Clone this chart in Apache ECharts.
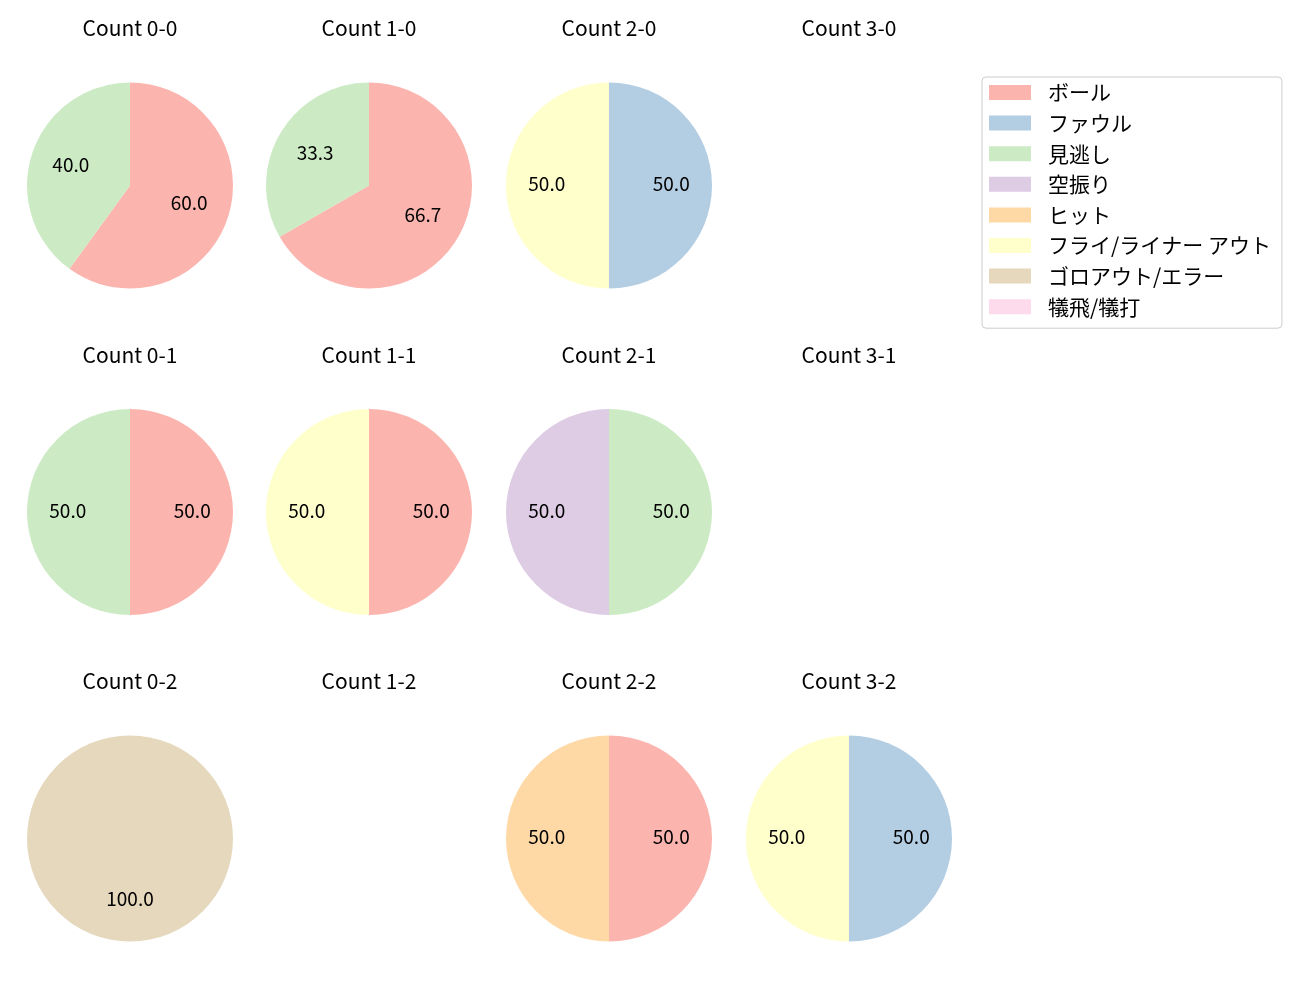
<!DOCTYPE html>
<html><head><meta charset="utf-8">
<script src="https://cdn.jsdelivr.net/npm/echarts@6/dist/echarts.min.js"></script>
<style>html,body{margin:0;padding:0;background:#fff}#c{width:1300px;height:1000px}</style>
</head><body><div id="c"></div>
<script>
const categories = ['ボール','ファウル','見逃し','空振り','ヒット','フライ/ライナー アウト','ゴロアウト/エラー','犠飛/犠打'];
const colors = ['#fbb4ae','#b3cde3','#ccebc5','#decbe4','#fed9a6','#ffffcc','#e5d8bd','#fddaec'];
const counts = ['0-0','1-0','2-0','3-0','0-1','1-1','2-1','3-1','0-2','1-2','2-2','3-2'];
// values per count, ordered as categories
const values = {
  '0-0': [60,0,40,0,0,0,0,0],
  '1-0': [66.7,0,33.3,0,0,0,0,0],
  '2-0': [0,50,0,0,0,50,0,0],
  '3-0': [0,0,0,0,0,0,0,0],
  '0-1': [50,0,50,0,0,0,0,0],
  '1-1': [50,0,0,0,0,50,0,0],
  '2-1': [0,0,50,50,0,0,0,0],
  '3-1': [0,0,0,0,0,0,0,0],
  '0-2': [0,0,0,0,0,0,100,0],
  '1-2': [0,0,0,0,0,0,0,0],
  '2-2': [50,0,0,0,50,0,0,0],
  '3-2': [0,50,0,0,0,50,0,0]
};

const colX = [130, 369, 609, 849];
const rowY = [185.5, 512, 838.5];
const titleY = [29, 356, 682];
const R = 103;
const FONT = '"Noto Sans CJK JP", "Noto Sans", sans-serif';
const FS = 21;

const series = [];
const titles = [];
counts.forEach((c, i) => {
  const col = i % 4, row = Math.floor(i / 4);
  const cx = colX[col], cy = rowY[row];
  titles.push({
    text: 'Count ' + c, left: cx, top: titleY[row] - FS / 2 - 1, textAlign: 'center', padding: 0,
    textStyle: {fontFamily: FONT, fontSize: FS, fontWeight: 'normal', color: '#000', lineHeight: FS}
  });
  const vals = values[c];
  const data = [];
  vals.forEach((v, k) => { if (v > 0) data.push({name: categories[k], value: v, itemStyle: {color: colors[k]}}); });
  if (!data.length) return;
  series.push({
    type: 'pie', center: [cx, cy], radius: [0, R], startAngle: 90, clockwise: true,
    silent: true, animation: false, label: {show: false}, labelLine: {show: false},
    itemStyle: {borderWidth: 0}, data: data
  });
  series.push({
    type: 'pie', center: [cx, cy - 1.5], radius: [0, R * 1.15], startAngle: 90, clockwise: true,
    silent: true, animation: false, labelLine: {show: false}, legendHoverLink: false,
    itemStyle: {color: 'rgba(0,0,0,0)', borderWidth: 0},
    label: {show: true, position: 'inside', color: '#000', fontFamily: FONT, fontSize: FS - 2,
      formatter: p => p.value.toFixed(1)},
    data: data.map(d => ({name: d.name + ' ', value: d.value}))
  });
});
// legend carrier series (invisible)
series.push({
  type: 'pie', center: [-500, -500], radius: 0, silent: true, animation: false,
  stillShowZeroSum: false, label: {show: false},
  data: categories.map((n, k) => ({name: n, value: 0, itemStyle: {color: colors[k]}}))
});

const chart = echarts.init(document.getElementById('c'));
chart.setOption({
  animation: false,
  title: titles,
  legend: {
    data: categories, orient: 'vertical', left: 982, top: 77,
    itemWidth: 42, itemHeight: 15, itemGap: 9.6, icon: 'rect',
    padding: [5, 11, 11, 7],
    borderColor: '#cccccc', borderWidth: 1, borderRadius: 4,
    selectedMode: false,
    textStyle: {fontFamily: FONT, fontSize: FS, color: '#000', lineHeight: 21, padding: [0, 0, 0, 12]}
  },
  series: series
});
</script></body></html>
